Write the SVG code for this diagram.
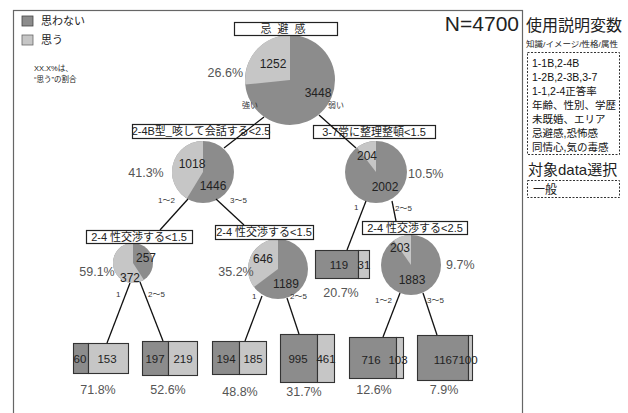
<svg xmlns="http://www.w3.org/2000/svg" width="628" height="413" viewBox="0 0 628 413">
<defs>
<style>
text{font-family:"Liberation Sans","Noto Sans CJK JP",sans-serif;fill:#222}
.dk{fill:#8c8c8c}
.lt{fill:#c6c6c6}
.nb{fill:#fff;stroke:#222;stroke-width:1.2}
.nt{font-size:11px;text-anchor:middle}
.pn{font-size:12px;text-anchor:middle;fill:#222}
.ln2{font-size:11.5px;text-anchor:middle;fill:#222}
.pc{font-size:12.5px;fill:#555}
.bl{font-size:8px;fill:#333}
.bx{stroke:#333;stroke-width:1.1}
.ln{stroke:#111;stroke-width:1.3;fill:none}
.pp{font-size:10.5px;fill:#111}
</style>
</defs>
<rect width="628" height="413" fill="#fff"/>
<rect x="13.5" y="10.5" width="509" height="420" fill="none" stroke="#666" stroke-width="1.2"/>

<g id="legend">
<rect x="22" y="16" width="11" height="10" class="dk" stroke="#444" stroke-width="0.8"/>
<text x="41" y="25" font-size="11">思わない</text>
<rect x="22" y="35" width="11" height="10" class="lt" stroke="#666" stroke-width="0.8"/>
<text x="41" y="44" font-size="11">思う</text>
<text x="34" y="71" font-size="7.5" fill="#444">XX.X%は、</text>
<text x="34" y="82" font-size="7.5" fill="#444">“思う”の割合</text>
</g>

<g id="header">
<text x="519" y="31" font-size="21" text-anchor="end" fill="#111">N=4700</text>
<text x="526" y="31" font-size="16" fill="#111">使用説明変数</text>
<text x="526" y="47" font-size="8" textLength="92" lengthAdjust="spacingAndGlyphs">知識/イメージ/性格/属性</text>
<rect x="527.5" y="52.5" width="92" height="102" fill="none" stroke="#333" stroke-dasharray="2 1.5"/>
<text class="pp" x="532" y="67">1-1B,2-4B</text>
<text class="pp" x="532" y="81">1-2B,2-3B,3-7</text>
<text class="pp" x="532" y="95">1-1,2-4正答率</text>
<text class="pp" x="532" y="109">年齢、性別、学歴</text>
<text class="pp" x="532" y="123">未既婚、エリア</text>
<text class="pp" x="532" y="137">忌避感,恐怖感</text>
<text class="pp" x="532" y="151">同情心,気の毒感</text>
<text x="528" y="175" font-size="15" fill="#111">対象data選択</text>
<rect x="527.5" y="180.5" width="92" height="17" fill="none" stroke="#333" stroke-dasharray="2 1.5"/>
<text x="533" y="194" font-size="12" fill="#111">一般</text>
</g>

<g id="root">
<circle class="dk" cx="290" cy="80" r="45"/>
<path class="lt" d="M290,80 L290,35 A45,45 0 0,0 245.23,84.52 Z"/>
<rect class="nb" x="234.5" y="22.5" width="103" height="13"/>
<text class="nt" x="286" y="33" letter-spacing="6">忌避感</text>
<text class="pn" x="273" y="68">1252</text>
<text class="pn" x="318" y="97">3448</text>
<text class="pc" x="243" y="77" text-anchor="end">26.6%</text>
</g>

<g id="n_2-4B">
<circle class="dk" cx="203" cy="172" r="31"/>
<path class="lt" d="M203,172 L203,141 A31,31 0 0,0 186.88,198.48 Z"/>
<rect class="nb" x="132.5" y="124.5" width="137" height="14"/>
<text class="nt" x="201" y="135">2-4B型_咳して会話する&lt;2.5</text>
<text class="pn" x="192" y="168">1018</text>
<text class="pn" x="213" y="190">1446</text>
<text class="pc" x="146" y="177" text-anchor="middle">41.3%</text>
</g>

<g id="n_3-7">
<circle class="dk" cx="376" cy="172" r="31"/>
<path class="lt" d="M376,172 L376,141 A31,31 0 0,0 357,147.5 Z"/>
<rect class="nb" x="313.5" y="125.5" width="122" height="13"/>
<text class="nt" x="374" y="136">3-7常に整理整頓&lt;1.5</text>
<text class="pn" x="367" y="160">204</text>
<text class="pn" x="385" y="191">2002</text>
<text class="pc" x="408" y="178">10.5%</text>
</g>

<g id="n_sex1">
<circle class="dk" cx="133" cy="263" r="20"/>
<path class="lt" d="M133,263 L133,243 A20,20 0 1,0 143.82,279.82 Z"/>
<rect class="nb" x="86.5" y="230.5" width="106" height="13"/>
<text class="nt" x="139" y="241">2-4 性交渉する&lt;1.5</text>
<text class="pn" x="146" y="262">257</text>
<text class="pn" x="130" y="282">372</text>
<text class="pc" x="97" y="276" text-anchor="middle">59.1%</text>
</g>

<g id="n_sex2">
<circle class="dk" cx="278" cy="269" r="30"/>
<path class="lt" d="M278,269 L278,239 A30,30 0 0,0 253.95,286.94 Z"/>
<rect class="nb" x="215.5" y="225.5" width="98" height="14"/>
<text class="nt" x="264" y="236">2-4 性交渉する&lt;1.5</text>
<text class="pn" x="263" y="263">646</text>
<text class="pn" x="286" y="288">1189</text>
<text class="pc" x="236" y="276" text-anchor="middle">35.2%</text>
</g>

<g id="n_sex3">
<circle class="dk" cx="411" cy="265" r="30"/>
<path class="lt" d="M411,265 L411,235 A30,30 0 0,0 393.83,240.4 Z"/>
<rect class="nb" x="362.5" y="221.5" width="105" height="13"/>
<text class="nt" x="415" y="232">2-4 性交渉する&lt;2.5</text>
<text class="pn" x="400" y="252">203</text>
<text class="pn" x="412" y="284">1883</text>
<text class="pc" x="446" y="269">9.7%</text>
</g>

<g id="leaf_119">
<rect class="dk bx" x="315.5" y="250.5" width="43" height="28"/>
<rect class="lt bx" x="358.5" y="250.5" width="11" height="28"/>
<text class="ln2" x="339" y="269">119</text>
<text class="ln2" x="364" y="269">31</text>
<text class="pc" x="341" y="297" text-anchor="middle">20.7%</text>
</g>

<g id="leaf_60">
<rect class="dk bx" x="73.5" y="343.5" width="15" height="30"/>
<rect class="lt bx" x="88.5" y="343.5" width="40" height="30"/>
<text class="ln2" x="80" y="363">60</text>
<text class="ln2" x="107" y="363">153</text>
<text class="pc" x="98" y="394" text-anchor="middle">71.8%</text>
</g>

<g id="leaf_197">
<rect class="dk bx" x="142.5" y="341.5" width="26" height="34"/>
<rect class="lt bx" x="168.5" y="341.5" width="29" height="34"/>
<text class="ln2" x="155" y="363">197</text>
<text class="ln2" x="183" y="363">219</text>
<text class="pc" x="168" y="394" text-anchor="middle">52.6%</text>
</g>

<g id="leaf_194">
<rect class="dk bx" x="212.5" y="341.5" width="27" height="33"/>
<rect class="lt bx" x="239.5" y="341.5" width="27" height="33"/>
<text class="ln2" x="226" y="363">194</text>
<text class="ln2" x="253" y="363">185</text>
<text class="pc" x="240" y="396" text-anchor="middle">48.8%</text>
</g>

<g id="leaf_995">
<rect class="dk bx" x="280.5" y="334.5" width="37" height="48"/>
<rect class="lt bx" x="317.5" y="334.5" width="17" height="48"/>
<text class="ln2" x="298" y="363">995</text>
<text class="ln2" x="326" y="363">461</text>
<text class="pc" x="304" y="396" text-anchor="middle">31.7%</text>
</g>

<g id="leaf_716">
<rect class="dk bx" x="349.5" y="337.5" width="47" height="41"/>
<rect class="lt bx" x="396.5" y="337.5" width="7" height="41"/>
<text class="ln2" x="371" y="364">716</text>
<text class="ln2" x="398" y="364">103</text>
<text class="pc" x="374" y="394" text-anchor="middle">12.6%</text>
</g>

<g id="leaf_1167">
<rect class="dk bx" x="417.5" y="335.5" width="51" height="45"/>
<rect class="lt bx" x="468.5" y="335.5" width="4" height="45"/>
<text class="ln2" x="446" y="364">1167</text>
<text class="ln2" x="468" y="364" text-anchor="start">100</text>
<text class="pc" x="444" y="394" text-anchor="middle">7.9%</text>
</g>

<g id="connectors">
<line class="ln" x1="264" y1="117" x2="224" y2="148"/>
<line class="ln" x1="319" y1="115" x2="356" y2="148"/>
<line class="ln" x1="188" y1="199" x2="160" y2="230"/>
<line class="ln" x1="216" y1="199" x2="244" y2="225"/>
<line class="ln" x1="366" y1="201" x2="347" y2="250"/>
<line class="ln" x1="392" y1="201" x2="396" y2="221"/>
<line class="ln" x1="130" y1="283" x2="107" y2="343"/>
<line class="ln" x1="140" y1="282" x2="163" y2="341"/>
<line class="ln" x1="262" y1="296" x2="245" y2="341"/>
<line class="ln" x1="287" y1="298" x2="299" y2="334"/>
<line class="ln" x1="400" y1="293" x2="383" y2="337"/>
<line class="ln" x1="423" y1="293" x2="437" y2="335"/>
<text class="bl" x="242" y="108">強い</text>
<text class="bl" x="328" y="108">弱い</text>
<text class="bl" x="158" y="203">1～2</text>
<text class="bl" x="230" y="203">3～5</text>
<text class="bl" x="116" y="297">1</text>
<text class="bl" x="148" y="297">2～5</text>
<text class="bl" x="252" y="299">1</text>
<text class="bl" x="290" y="299">2～5</text>
<text class="bl" x="354" y="210">1</text>
<text class="bl" x="395" y="211">2～5</text>
<text class="bl" x="375" y="303">1～2</text>
<text class="bl" x="427" y="303">3～5</text>
</g>
</svg>
